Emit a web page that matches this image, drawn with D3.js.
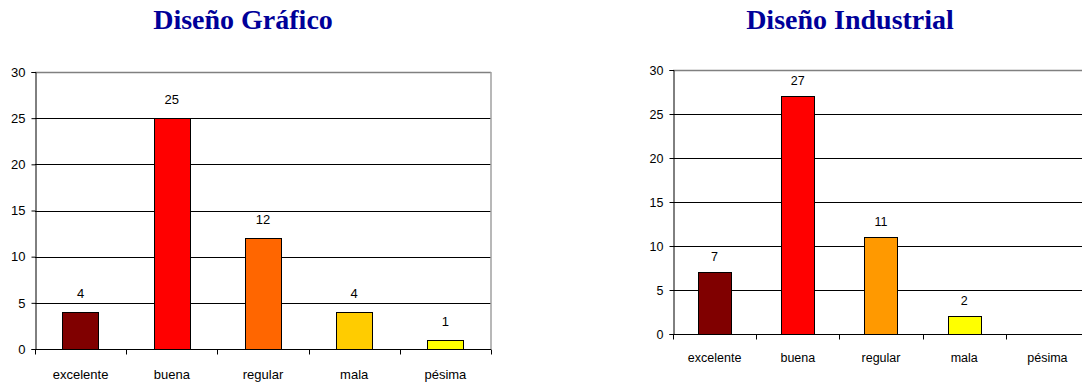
<!DOCTYPE html>
<html>
<head>
<meta charset="utf-8">
<script src="https://cdn.jsdelivr.net/npm/d3@7"></script>
<style>
  html, body { margin: 0; padding: 0; background: #fff; }
  svg { display: block; }
</style>
</head>
<body>
<svg id="chart" width="1082" height="385"></svg>
<script>
// Survey ratings for two design programmes
const categories = ["excelente", "buena", "regular", "mala", "pésima"];
const graficoValues = [4, 25, 12, 4, 1];
const industrialValues = [7, 27, 11, 2, 0];
const yTickValues = [0, 5, 10, 15, 20, 25, 30];
const graficoColors = ["#800000", "#FF0000", "#FF6600", "#FFCC00", "#FFFF00"];
const industrialColors = ["#800000", "#FF0000", "#FF9900", "#FFFF00", "#FFFF00"];
const titles = ["Diseño Gráfico", "Diseño Industrial"];

const svg = d3.select("#chart");

function drawPanel(title, values, colors, box) {
  const g = svg.append("g");

  const x = d3.scaleBand().domain(categories).range([box.left, box.right]).padding(0);
  const y = d3.scaleLinear().domain([0, 30]).range([box.bottom, box.top]);
  const step = x.step();

  // title
  g.append("text")
    .attr("x", box.titleX)
    .attr("y", 29)
    .attr("text-anchor", "middle")
    .attr("font-family", "'Liberation Serif', 'Times New Roman', serif")
    .attr("font-weight", "bold")
    .attr("font-size", box.titleSize)
    .attr("fill", "#000099")
    .text(title);

  // horizontal gridlines
  g.append("g")
    .selectAll("line")
    .data(yTickValues.filter(v => v > 0))
    .join("line")
    .attr("x1", box.left)
    .attr("x2", box.right)
    .attr("y1", d => Math.round(y(d)) + 0.5)
    .attr("y2", d => Math.round(y(d)) + 0.5)
    .attr("stroke", d => d === 30 ? "#808080" : "#000")
    .attr("stroke-width", d => d === 30 ? 1.5 : 1);

  // right border of the plot area
  g.append("line")
    .attr("x1", box.right).attr("x2", box.right)
    .attr("y1", y(30)).attr("y2", y(0))
    .attr("stroke", "#a0a0a0")
    .attr("stroke-width", 1.5);

  // bars
  g.append("g")
    .selectAll("rect")
    .data(categories.map((c, i) => ({ c, v: values[i], color: colors[i] })).filter(d => d.v > 0))
    .join("rect")
    .attr("x", d => Math.round(x(d.c) + step * 0.3) + 0.5)
    .attr("width", Math.round(step * 0.4))
    .attr("y", d => Math.round(y(d.v)) + 0.5)
    .attr("height", d => Math.round(y(0)) - Math.round(y(d.v)))
    .attr("fill", d => d.color)
    .attr("stroke", "#000")
    .attr("stroke-width", 1);

  // value labels
  g.append("g")
    .selectAll("text")
    .data(categories.map((c, i) => ({ c, v: values[i] })).filter(d => d.v > 0))
    .join("text")
    .attr("x", d => x(d.c) + step / 2)
    .attr("y", d => y(d.v) - box.labelGap)
    .attr("text-anchor", "middle")
    .attr("font-family", "'Liberation Sans', Arial, sans-serif")
    .attr("font-size", box.fontSize)
    .attr("fill", "#000")
    .text(d => d.v);

  // y axis
  const yAxis = d3.axisLeft(y).tickValues(yTickValues).tickSize(4).tickPadding(6).tickFormat(d3.format("d"));
  const ya = g.append("g")
    .attr("transform", `translate(${Math.round(box.left) + 0.5},0)`)
    .call(yAxis);
  ya.select(".domain").attr("stroke", "#000");
  ya.selectAll(".tick line").attr("stroke", "#000");
  ya.selectAll(".tick text")
    .attr("font-family", "'Liberation Sans', Arial, sans-serif")
    .attr("font-size", box.fontSize)
    .attr("fill", "#000");

  // x axis: labels centred in each band
  const xAxis = d3.axisBottom(x).tickSize(0).tickPadding(box.xLabelPad);
  const xa = g.append("g")
    .attr("transform", `translate(0,${Math.round(y(0)) + 0.5})`)
    .call(xAxis);
  xa.select(".domain").attr("stroke", "#000").attr("d", `M${box.left},0H${box.right}`);
  xa.selectAll(".tick text")
    .attr("font-family", "'Liberation Sans', Arial, sans-serif")
    .attr("font-size", box.fontSize)
    .attr("fill", "#000");

  // category separator ticks at band boundaries
  const bounds = categories.map(c => x(c)).concat([x.range()[1]]);
  xa.append("g")
    .selectAll("line")
    .data(bounds)
    .join("line")
    .attr("x1", d => Math.round(d) + 0.5)
    .attr("x2", d => Math.round(d) + 0.5)
    .attr("y1", 0)
    .attr("y2", 5)
    .attr("stroke", "#000");
}

drawPanel(titles[0], graficoValues, graficoColors, {
  left: 35, right: 491, top: 72, bottom: 349,
  titleX: 243, titleSize: 28, fontSize: 13, labelGap: 14, xLabelPad: 20
});

drawPanel(titles[1], industrialValues, industrialColors, {
  left: 673, right: 1089, top: 70, bottom: 334,
  titleX: 850, titleSize: 28, fontSize: 12.5, labelGap: 11.5, xLabelPad: 19
});
</script>
</body>
</html>
